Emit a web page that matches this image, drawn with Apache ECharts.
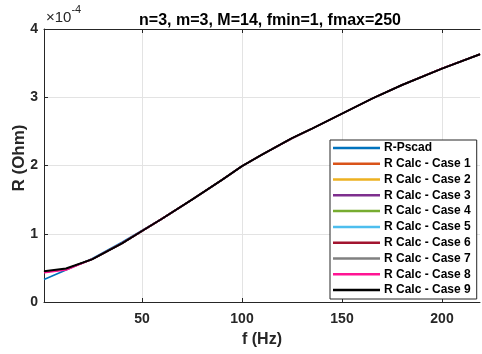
<!DOCTYPE html>
<html>
<head>
<meta charset="utf-8">
<script src="https://cdn.jsdelivr.net/npm/echarts@6/dist/echarts.min.js"></script>
<style>html,body{margin:0;padding:0;background:#fff}#c{width:482px;height:354px}</style>
</head>
<body>
<div id="c"></div>
<script>
// frequencies (Hz)
const freq = [1, 12, 25, 40, 50, 60, 75, 90, 100, 110, 125, 135, 150, 165, 180, 200, 219];
// resistance values in units of 1e-4 Ohm
const rPscad = [0.33, 0.47, 0.635, 0.875, 1.05, 1.22, 1.50, 1.79, 1.99, 2.16, 2.40, 2.54, 2.76, 2.98, 3.18, 3.42, 3.63];
const case1 = [0.44, 0.48, 0.625, 0.86, 1.04, 1.22, 1.50, 1.79, 1.99, 2.16, 2.40, 2.54, 2.76, 2.98, 3.18, 3.42, 3.63];
const case2 = [0.44, 0.48, 0.625, 0.86, 1.04, 1.22, 1.50, 1.79, 1.99, 2.16, 2.40, 2.54, 2.76, 2.98, 3.18, 3.42, 3.63];
const case3 = [0.44, 0.48, 0.625, 0.86, 1.04, 1.22, 1.50, 1.79, 1.99, 2.16, 2.40, 2.54, 2.76, 2.98, 3.18, 3.42, 3.63];
const case4 = [0.44, 0.48, 0.625, 0.86, 1.04, 1.22, 1.50, 1.79, 1.99, 2.16, 2.40, 2.54, 2.76, 2.98, 3.18, 3.42, 3.63];
const case5 = [0.44, 0.48, 0.625, 0.86, 1.04, 1.22, 1.50, 1.79, 1.99, 2.16, 2.40, 2.54, 2.76, 2.98, 3.18, 3.42, 3.63];
const case6 = [0.44, 0.48, 0.625, 0.86, 1.04, 1.22, 1.50, 1.79, 1.99, 2.16, 2.40, 2.54, 2.76, 2.98, 3.18, 3.42, 3.63];
const case7 = [0.44, 0.48, 0.625, 0.86, 1.04, 1.22, 1.50, 1.79, 1.99, 2.16, 2.40, 2.54, 2.76, 2.98, 3.18, 3.42, 3.63];
const case8 = [0.43, 0.47, 0.625, 0.86, 1.04, 1.22, 1.50, 1.79, 1.99, 2.16, 2.40, 2.54, 2.76, 2.98, 3.18, 3.42, 3.63];
const case9 = [0.45, 0.49, 0.625, 0.86, 1.04, 1.22, 1.50, 1.79, 1.99, 2.16, 2.40, 2.54, 2.76, 2.98, 3.18, 3.42, 3.63];
const seriesNames = ['R-Pscad', 'R Calc - Case 1', 'R Calc - Case 2', 'R Calc - Case 3', 'R Calc - Case 4',
  'R Calc - Case 5', 'R Calc - Case 6', 'R Calc - Case 7', 'R Calc - Case 8', 'R Calc - Case 9'];
const seriesData = [rPscad, case1, case2, case3, case4, case5, case6, case7, case8, case9];
const xTicks = [50, 100, 150, 200];

const colors = ['#0072BD', '#D95319', '#EDB120', '#7E2F8E', '#77AC30', '#4DBEEE', '#A2142F', '#808080', '#FF1493', '#000000'];
const font = '"Liberation Sans", Arial, sans-serif';
const txt = '#262626';

const chart = echarts.init(document.getElementById('c'), null, {renderer: 'canvas'});
chart.setOption({
  animation: false,
  backgroundColor: '#fff',
  color: colors,
  title: {
    text: 'n=3, m=3, M=14, fmin=1, fmax=250',
    left: 265, top: 8, textAlign: 'center',
    textStyle: {fontFamily: font, fontSize: 16, fontWeight: 'bold', color: '#000'}
  },
  graphic: [{
    type: 'text', x: 46, y: 3,
    style: {
      text: '{b|×10}{e|-4}',
      rich: {
        b: {fontSize: 15, fontFamily: font, fill: txt, lineHeight: 22, verticalAlign: 'bottom'},
        e: {fontSize: 11, fontFamily: font, fill: txt, lineHeight: 22, verticalAlign: 'top', padding: [1, 0, 0, 0]}
      }
    }
  }, {
    type: 'text', x: 19, y: 158, rotation: Math.PI / 2,
    style: {
      text: 'R (Ohm)', fontFamily: font, fontSize: 17, fontWeight: 'bold', fill: txt,
      textAlign: 'center', textVerticalAlign: 'middle'
    }
  }],
  grid: {left: 44, top: 29, right: 2, bottom: 52, containLabel: false},
  legend: {
    orient: 'vertical', left: 330, top: 140,
    backgroundColor: '#fff', borderColor: '#262626', borderWidth: 1,
    padding: [0, 6, 1, 3],
    itemWidth: 47, itemHeight: 2.5, itemGap: 0,
    icon: 'rect',
    textStyle: {fontFamily: font, fontSize: 12, fontWeight: 'bold', color: '#000', lineHeight: 15.8, padding: [0, 0, 0, -1]},
    data: seriesNames
  },
  xAxis: [{
    type: 'value', min: 1, max: 219,
    name: 'f (Hz)', nameLocation: 'middle', nameGap: 30,
    nameTextStyle: {fontFamily: font, fontSize: 16, fontWeight: 'bold', color: txt},
    axisLine: {lineStyle: {color: txt, width: 1}},
    axisTick: {inside: true, length: 4, customValues: xTicks, lineStyle: {color: txt}},
    axisLabel: {customValues: xTicks, fontFamily: font, fontSize: 14, fontWeight: 'bold', color: txt, margin: 10},
    splitLine: {show: true, lineStyle: {color: '#e3e3e3', width: 1}}
  }, {
    type: 'value', min: 1, max: 219, position: 'top',
    axisLine: {lineStyle: {color: txt, width: 1}},
    axisTick: {inside: true, length: 4, customValues: xTicks, lineStyle: {color: txt}},
    axisLabel: {show: false}, splitLine: {show: false}
  }],
  yAxis: {
    type: 'value', min: 0, max: 4, interval: 1,
    axisLine: {show: true, lineStyle: {color: txt, width: 1}},
    axisTick: {show: true, inside: true, length: 4, lineStyle: {color: txt}},
    axisLabel: {fontFamily: font, fontSize: 14, fontWeight: 'bold', color: txt, margin: 6},
    splitLine: {show: true, lineStyle: {color: '#e3e3e3', width: 1}}
  },
  series: seriesNames.map((n, i) => ({
    name: n, type: 'line', xAxisIndex: 0,
    showSymbol: false, symbol: 'none',
    lineStyle: {width: i === 9 ? 2 : 1.6, color: colors[i]},
    data: freq.map((f, k) => [f, seriesData[i][k]])
  }))
});
</script>
</body>
</html>
